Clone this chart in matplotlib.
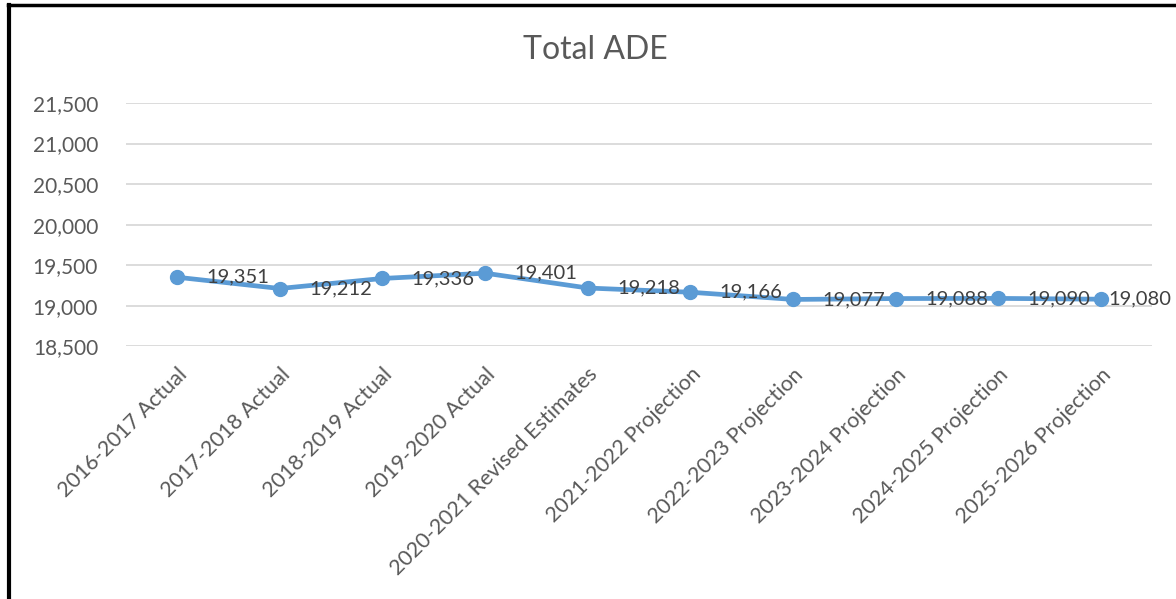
import matplotlib.pyplot as plt
from matplotlib.lines import Line2D

categories = ["2016-2017 Actual", "2017-2018 Actual", "2018-2019 Actual", "2019-2020 Actual",
              "2020-2021 Revised Estimates", "2021-2022 Projection", "2022-2023 Projection",
              "2023-2024 Projection", "2024-2025 Projection", "2025-2026 Projection"]
ade = [19351, 19212, 19336, 19401, 19218, 19166, 19077, 19088, 19090, 19080]
yticks = [18500, 19000, 19500, 20000, 20500, 21000, 21500]

plt.rcParams['font.family'] = ['Lato', 'DejaVu Sans']

fig = plt.figure(figsize=(11.76, 5.99), dpi=100)
ax = fig.add_axes([0.107, 0.422, 0.873, 0.406])

x = range(len(categories))
ax.plot(x, ade, color='#5B9BD5', lw=3.4, marker='o', ms=10, zorder=3, solid_capstyle='round')

# data labels to the right of points (last one squeezed by the edge)
offsets = [21] * (len(ade) - 1) + [5]
for i, v in enumerate(ade):
    ax.annotate(f"{v:,}", (i, v), xytext=(offsets[i], 0), textcoords='offset points',
                ha='left', va='center', fontsize=14.5, color='#404040', zorder=4)

ax.set_xlim(-0.5, len(categories) - 0.5)
ax.set_ylim(18500, 21500)
ax.set_yticks(yticks)
ax.set_yticklabels([f"{t:,}" for t in yticks], fontsize=15, color='#595959')
ax.set_xticks(list(x))
ax.set_xticklabels(categories, rotation=45, ha='right', rotation_mode='anchor',
                   fontsize=15.5, color='#595959')
ax.tick_params(axis='x', length=0, pad=13)
ax.tick_params(axis='y', length=0, pad=20)
ax.grid(axis='y', color='#D9D9D9', lw=1.3)
ax.set_axisbelow(True)
for s in ax.spines.values():
    s.set_visible(False)

fig.text(0.506, 0.917, "Total ADE", ha='center', va='center', fontsize=23, color='#595959')

# frame lines of the cropped chart box
fig.add_artist(Line2D([0.0078, 0.0078], [0, 0.991], transform=fig.transFigure, color='black', lw=3))
fig.add_artist(Line2D([0.0065, 1], [0.991, 0.991], transform=fig.transFigure, color='black', lw=2.5))

fig.savefig('out.png', dpi=100)
